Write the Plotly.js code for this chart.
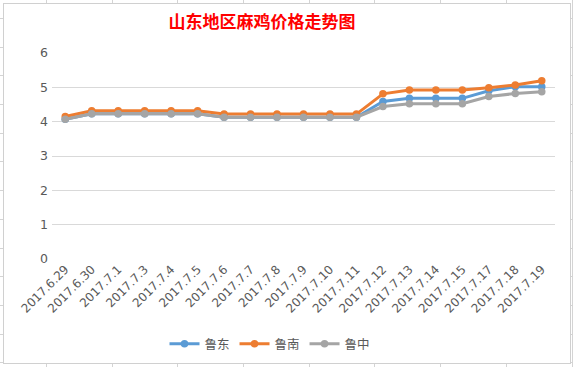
<!DOCTYPE html>
<html>
<head>
<meta charset="utf-8">
<script src="https://cdn.plot.ly/plotly-3.0.1.min.js"></script>
<style>
  html, body { margin: 0; padding: 0; }
  body {
    width: 573px; height: 367px; overflow: hidden; position: relative;
    background-color: #ffffff;
    background-image:
      repeating-linear-gradient(to right, transparent 0px, transparent 46px, #d4d4d4 46px, #d4d4d4 47px, transparent 47px, transparent 65.7px),
      repeating-linear-gradient(to bottom, transparent 0px, transparent 18px, #d4d4d4 18px, #d4d4d4 19px, transparent 19px, transparent 28.7px);
  }
  #frame {
    position: absolute; left: 3px; top: 3px; width: 566px; height: 359px;
    background: #ffffff; border: 1px solid #d0d0d0;
  }
  #chart { position: absolute; left: 0; top: 0; width: 573px; height: 367px; }
</style>
</head>
<body>
<div id="frame"></div>
<div id="chart"></div>
<script>
const categories = ["2017.6.29","2017.6.30","2017.7.1","2017.7.3","2017.7.4","2017.7.5","2017.7.6","2017.7.7","2017.7.8","2017.7.9","2017.7.10","2017.7.11","2017.7.12","2017.7.13","2017.7.14","2017.7.15","2017.7.17","2017.7.18","2017.7.19"];
const ludong  = [4.07,4.23,4.23,4.23,4.23,4.23,4.13,4.13,4.13,4.13,4.13,4.13,4.59,4.68,4.68,4.68,4.90,5.02,5.02];
const lunan   = [4.15,4.32,4.32,4.32,4.32,4.32,4.22,4.22,4.22,4.22,4.22,4.22,4.81,4.92,4.92,4.92,4.99,5.07,5.19];
const luzhong = [4.07,4.23,4.23,4.23,4.23,4.23,4.13,4.13,4.13,4.13,4.13,4.13,4.44,4.52,4.52,4.52,4.73,4.82,4.87];
const seriesNames = ["鲁东","鲁南","鲁中"];
const yTicks = [0,1,2,3,4,5,6];
const colors = ["#5b9bd5","#ed7d31","#a5a5a5"];

const xIdx = categories.map((_, i) => i);
const allSeries = [ludong, lunan, luzhong];
const traces = allSeries.map((vals, k) => ({
  type: "scatter",
  mode: "lines+markers",
  name: seriesNames[k],
  x: xIdx,
  y: vals,
  line: { color: colors[k], width: 3 },
  marker: { color: colors[k], size: 7.5, symbol: "circle" }
}));

const W = 573, H = 367, L = 52, R = 18, T = 53, B = 108;
const pw = W - L - R, ph = H - T - B;

const layout = {
  width: W, height: H,
  paper_bgcolor: "rgba(0,0,0,0)",
  plot_bgcolor: "rgba(0,0,0,0)",
  margin: { l: L, r: R, t: T, b: B, autoexpand: false },
  title: {
    text: "山东地区麻鸡价格走势图",
    font: { family: "Noto Sans CJK SC", size: 17, color: "#ff0000", weight: "bold" },
    x: 262 / W, xanchor: "center", xref: "container",
    y: 1 - 22 / H, yanchor: "middle", yref: "container"
  },
  xaxis: {
    range: [-0.5, categories.length - 0.5],
    tickmode: "array",
    tickvals: xIdx,
    ticktext: categories,
    tickangle: -45,
    tickfont: { family: "DejaVu Sans, sans-serif", size: 12, color: "#595959" },
    showgrid: false, zeroline: false, showline: false,
    ticks: "", fixedrange: true, automargin: false
  },
  yaxis: {
    range: [0, 6],
    tickmode: "array",
    tickvals: yTicks,
    ticktext: yTicks.map(String),
    tickfont: { family: "DejaVu Sans, sans-serif", size: 12.5, color: "#595959" },
    showgrid: true, gridcolor: "#d9d9d9", gridwidth: 1,
    zeroline: false, showline: false, ticks: "", automargin: false,
    ticklabelstandoff: 3
  },
  showlegend: true,
  legend: {
    orientation: "h",
    x: (270 - L) / pw, xanchor: "center",
    y: -(344 - (H - B)) / ph, yanchor: "middle",
    font: { family: "Noto Sans CJK SC", size: 12.5, color: "#595959" },
    bgcolor: "rgba(0,0,0,0)"
  }
};
Plotly.newPlot("chart", traces, layout, { displayModeBar: false, staticPlot: true });
</script>
</body>
</html>
